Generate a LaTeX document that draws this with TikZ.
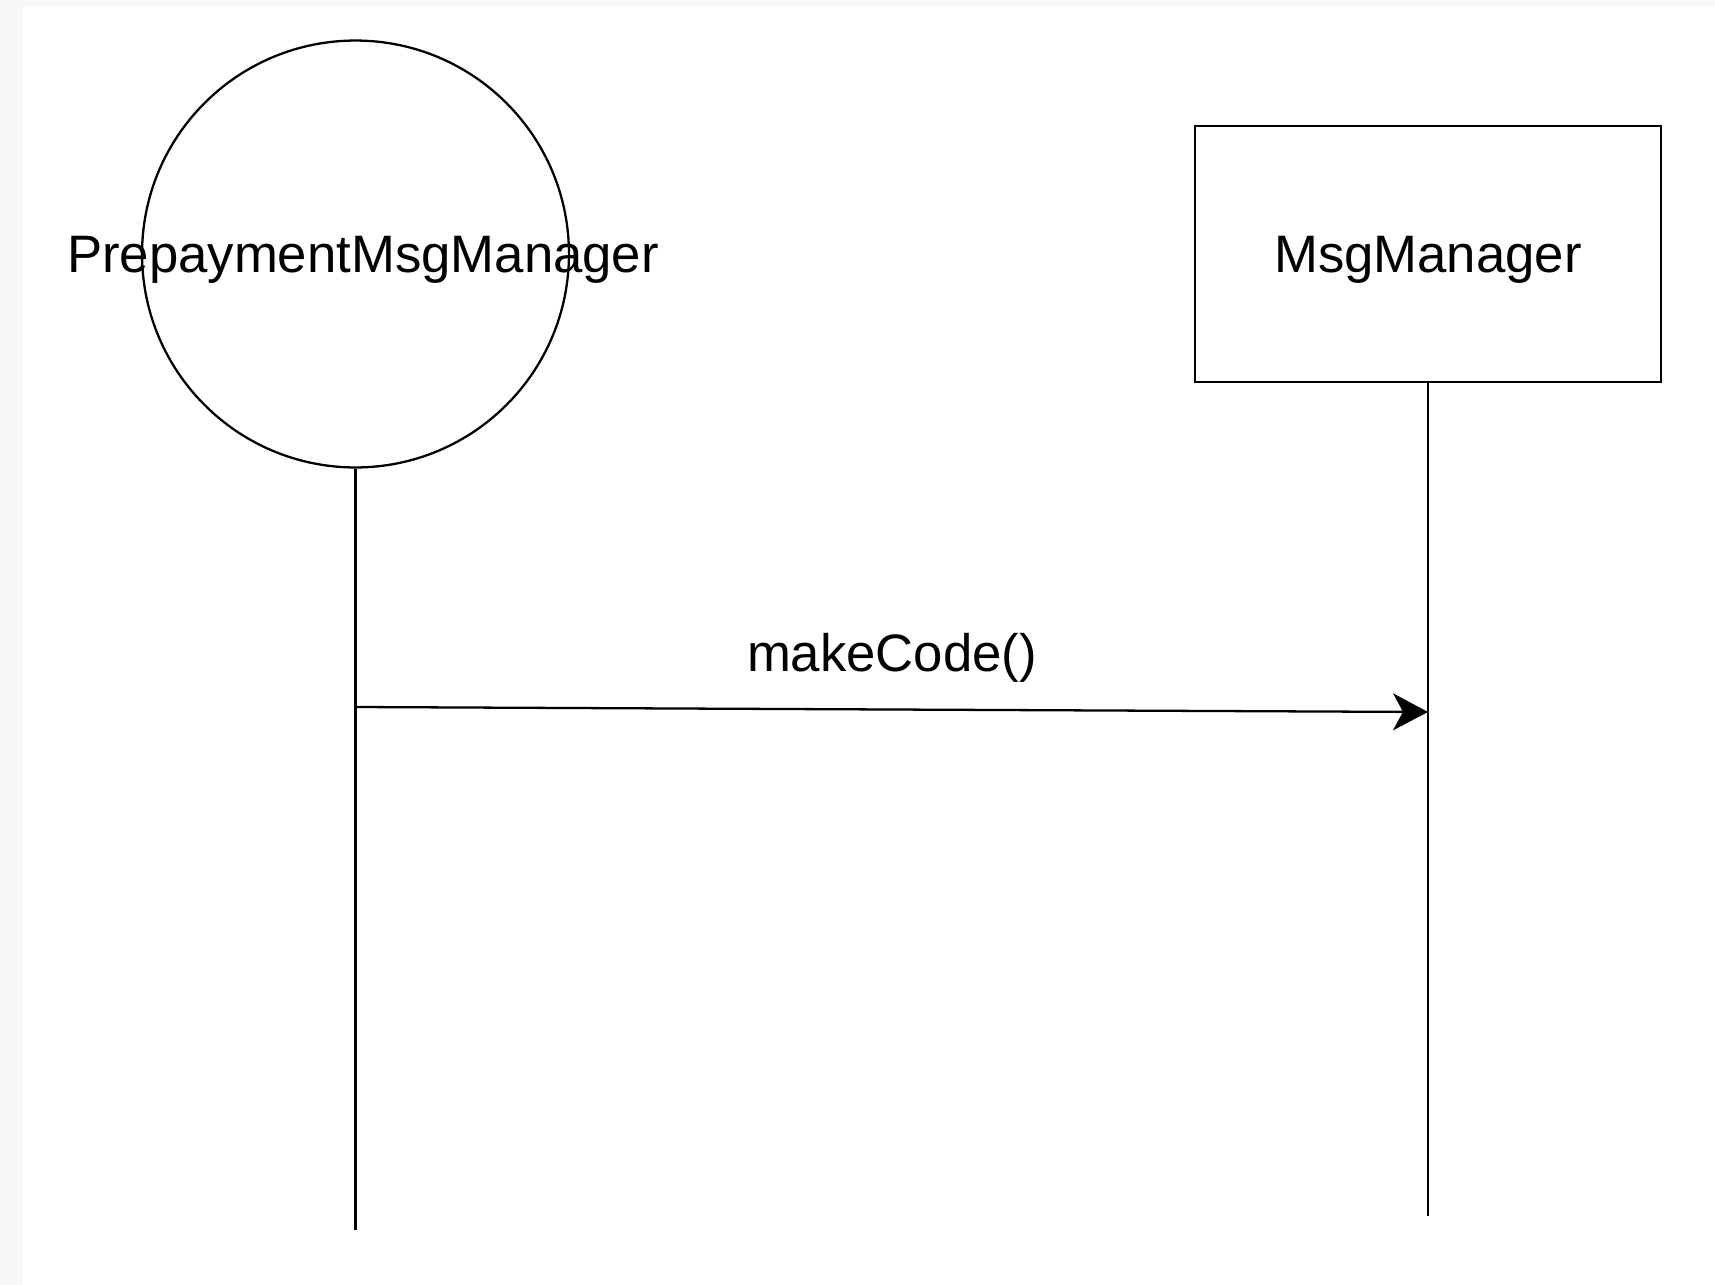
\documentclass[tikz,border=0pt]{standalone}
\usepackage{fontspec}
\setmainfont{Liberation Sans}
\usetikzlibrary{arrows.meta}
\definecolor{pagegrey}{HTML}{F7F7F7}

\begin{document}
\begin{tikzpicture}[x=0.02cm, y=-0.02cm, line width=1.3pt,
    every node/.style={font=\fontsize{30}{36}\selectfont},
    lifeline/.style={draw, black},
    callarrow/.style={draw, black, -{Stealth[length=0.7cm, width=0.74cm, inset=0.2cm]}}]
    \fill[pagegrey] (0,0) rectangle (1715,1285);
    \fill[white] (23,6) rectangle (1715,1285);
    % participants
    \node[circle, draw, minimum size=8.54cm, inner sep=0pt] (prepay) at (355.5,254) {};
    \node[text depth=0pt] (prepaytext) at (363,254) {PrepaymentMsgManager};
    \node[draw, minimum width=9.32cm, minimum height=5.12cm, text depth=0pt] (msgmgr) at (1428,254) {MsgManager};
    % lifelines
    \coordinate (prepayend) at (355.5,1230);
    \coordinate (msgmgrend) at (1428,1216);
    \draw[lifeline] (prepay.south) -- (prepayend);
    \draw[lifeline] (msgmgr.south) -- (msgmgrend);
    % message
    \coordinate (callstart) at (355.5,707);
    \coordinate (callend) at (1428,712);
    \draw[callarrow] (callstart) -- (callend);
    \node[anchor=base] (calllabel) at (892,671) {makeCode()};
\end{tikzpicture}
\end{document}
